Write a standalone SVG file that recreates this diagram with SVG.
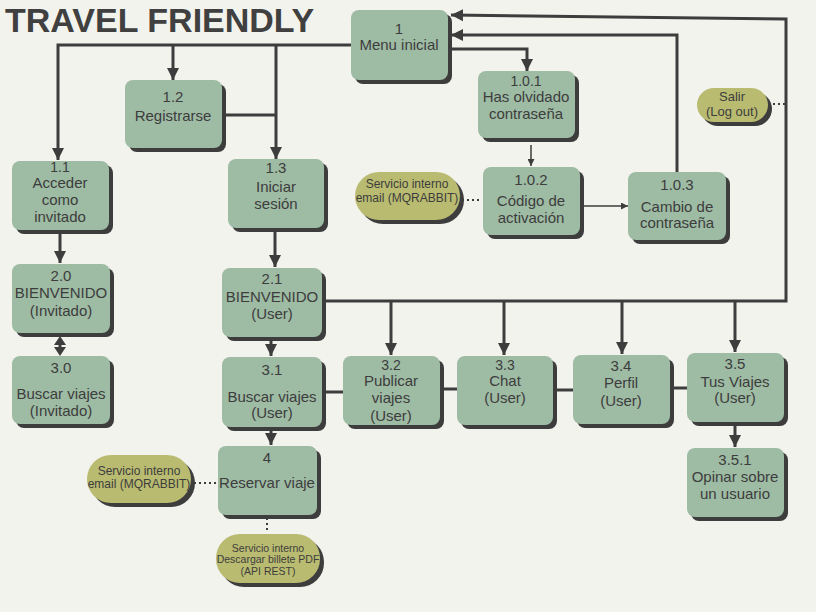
<svg xmlns="http://www.w3.org/2000/svg" width="816" height="612" viewBox="0 0 816 612">
<style>
.bg{fill:#f3f3ed}
.sh{fill:#3d3d3d}
.nd{fill:#9ebba4}
.pl{fill:#b9bb70}
.t{font-family:"Liberation Sans",Arial,sans-serif;font-size:15px;fill:#3d3d3d;text-anchor:middle}
.t14{font-size:14px}
.ts{font-family:"Liberation Sans",Arial,sans-serif;font-size:12px;fill:#3d3d3d;text-anchor:middle}
.tx{font-family:"Liberation Sans",Arial,sans-serif;font-size:10.5px;fill:#3d3d3d;text-anchor:middle}
.title{font-family:"Liberation Sans",Arial,sans-serif;font-size:34px;font-weight:bold;fill:#404040}
.c{fill:none;stroke:#3d3d3d;stroke-width:3}
.thin{fill:none;stroke:#3d3d3d;stroke-width:1.5}
.dot{fill:none;stroke:#3d3d3d;stroke-width:2;stroke-dasharray:2 3}
.head{fill:#3d3d3d}
</style>
<defs>
<marker id="ah" markerUnits="userSpaceOnUse" viewBox="0 0 10 10" refX="10" refY="5" markerWidth="12" markerHeight="13" orient="auto-start-reverse">
<path d="M0,0 L10,5 L0,10 z" fill="#3d3d3d"/>
</marker>
<marker id="as" markerUnits="userSpaceOnUse" viewBox="0 0 10 10" refX="10" refY="5" markerWidth="7" markerHeight="7" orient="auto">
<path d="M0,0 L10,5 L0,10 z" fill="#3d3d3d"/>
</marker>
</defs>
<rect class="bg" x="0" y="0" width="816" height="612"/>
<text class="title" x="5" y="32">TRAVEL FRIENDLY</text>

<g id="connectors">
<path class="c" d="M351,45 H58 V160" marker-end="url(#ah)"/>
<path class="c" d="M173,45 V80" marker-end="url(#ah)"/>
<path class="c" d="M276,45 V159" marker-end="url(#ah)"/>
<path class="c" d="M222,115 H276"/>
<path class="c" d="M448,49 H527 V71" marker-end="url(#ah)"/>
<path class="thin" d="M531,145 V166" marker-end="url(#as)"/>
<path class="thin" d="M580,206 H628" marker-end="url(#as)"/>
<path class="c" d="M677,172 V35 H451" marker-end="url(#ah)"/>
<path class="c" d="M322,301 H786 V19 L451,15" marker-end="url(#ah)"/>
<path class="c" d="M391,301 V355" marker-end="url(#ah)"/>
<path class="c" d="M504,301 V355" marker-end="url(#ah)"/>
<path class="c" d="M622,301 V354" marker-end="url(#ah)"/>
<path class="c" d="M735,301 V352" marker-end="url(#ah)"/>
<path class="c" d="M60,234 V263" marker-end="url(#ah)"/>
<g id="dbl">
<path class="c" d="M60,340 V352"/>
<path class="head" d="M60,336 L54,345 L66,345 z"/>
<path class="head" d="M60,356 L54,347 L66,347 z"/>
</g>
<path class="c" d="M275,232 V267" marker-end="url(#ah)"/>
<path class="c" d="M271,340 V356" marker-end="url(#ah)"/>
<path class="c" d="M322,392 H343"/>
<path class="c" d="M440,389 H457"/>
<path class="c" d="M553,390 H573"/>
<path class="c" d="M670,388 H687"/>
<path class="c" d="M735,426 V447" marker-end="url(#ah)"/>
<path class="c" d="M271,430 V445" marker-end="url(#ah)"/>
<path class="dot" d="M462,200 H482"/>
<path class="dot" d="M773,104 H786"/>
<path class="dot" d="M194,483 H218"/>
<path class="dot" d="M267,518 V533"/>
</g>

<g id="n1"><rect class="sh" x="355" y="14" width="97" height="70" rx="8"/><rect class="nd" x="351" y="10" width="97" height="70" rx="8"/>
<text class="t" x="399" y="34">1</text><text class="t" x="399" y="50">Menu inicial</text></g>

<g id="n1_2"><rect class="sh" x="129" y="84" width="97" height="68" rx="8"/><rect class="nd" x="125" y="80" width="97" height="68" rx="8"/>
<text class="t" x="173" y="102">1.2</text><text class="t" x="173" y="121">Registrarse</text></g>

<g id="n1_1"><rect class="sh" x="16" y="165" width="97" height="69" rx="8"/><rect class="nd" x="12" y="161" width="97" height="69" rx="8"/>
<text class="t t14" x="60" y="172">1.1</text><text class="t" x="60" y="188">Acceder</text><text class="t" x="60" y="205">como</text><text class="t" x="60" y="222">invitado</text></g>

<g id="n1_3"><rect class="sh" x="232" y="163" width="96" height="69" rx="8"/><rect class="nd" x="228" y="159" width="96" height="69" rx="8"/>
<text class="t" x="276" y="173">1.3</text><text class="t" x="276" y="192">Iniciar</text><text class="t" x="276" y="209">sesión</text></g>

<g id="n1_0_1"><rect class="sh" x="482" y="75" width="97" height="67" rx="8"/><rect class="nd" x="478" y="71" width="97" height="67" rx="8"/>
<text class="t t14" x="526" y="86">1.0.1</text><text class="t" x="526" y="102">Has olvidado</text><text class="t" x="526" y="119">contraseña</text></g>

<g id="n1_0_2"><rect class="sh" x="487" y="171" width="97" height="68" rx="8"/><rect class="nd" x="483" y="167" width="97" height="68" rx="8"/>
<text class="t" x="531" y="185">1.0.2</text><text class="t" x="531" y="206">Código de</text><text class="t" x="531" y="223">activación</text></g>

<g id="n1_0_3"><rect class="sh" x="632" y="176" width="98" height="68" rx="8"/><rect class="nd" x="628" y="172" width="98" height="68" rx="8"/>
<text class="t" x="677" y="190">1.0.3</text><text class="t" x="677" y="212">Cambio de</text><text class="t" x="677" y="228">contraseña</text></g>

<g id="p_email1"><rect class="sh" x="359" y="176" width="105" height="48" rx="24"/><rect class="pl" x="355" y="172" width="105" height="48" rx="24"/>
<text class="ts" x="407" y="188">Servicio interno</text><text class="ts" x="407" y="202">email (MQRABBIT)</text></g>

<g id="p_salir"><rect class="sh" x="701" y="92" width="71" height="34" rx="17"/><rect class="pl" x="697" y="88" width="71" height="34" rx="17"/>
<text class="t" style="font-size:13px" x="732" y="101">Salir</text><text class="t" style="font-size:13px" x="732" y="116">(Log out)</text></g>

<g id="n2_0"><rect class="sh" x="16" y="268" width="98" height="69" rx="8"/><rect class="nd" x="12" y="264" width="98" height="69" rx="8"/>
<text class="t" x="61" y="281">2.0</text><text class="t" x="61" y="298">BIENVENIDO</text><text class="t" x="61" y="316">(Invitado)</text></g>

<g id="n3_0"><rect class="sh" x="16" y="360" width="98" height="68" rx="8"/><rect class="nd" x="12" y="356" width="98" height="68" rx="8"/>
<text class="t" x="61" y="373">3.0</text><text class="t" x="61" y="399">Buscar viajes</text><text class="t" x="61" y="416">(Invitado)</text></g>

<g id="n2_1"><rect class="sh" x="226" y="272" width="100" height="69" rx="8"/><rect class="nd" x="222" y="268" width="100" height="69" rx="8"/>
<text class="t" x="272" y="284">2.1</text><text class="t" x="272" y="302">BIENVENIDO</text><text class="t" x="272" y="319">(User)</text></g>

<g id="n3_1"><rect class="sh" x="226" y="361" width="100" height="70" rx="8"/><rect class="nd" x="222" y="357" width="100" height="70" rx="8"/>
<text class="t" x="272" y="375">3.1</text><text class="t" x="272" y="402">Buscar viajes</text><text class="t" x="272" y="418">(User)</text></g>

<g id="n3_2"><rect class="sh" x="347" y="360" width="97" height="69" rx="8"/><rect class="nd" x="343" y="356" width="97" height="69" rx="8"/>
<text class="t t14" x="391" y="370">3.2</text><text class="t" x="391" y="386">Publicar</text><text class="t" x="391" y="403">viajes</text><text class="t" x="391" y="421">(User)</text></g>

<g id="n3_3"><rect class="sh" x="461" y="360" width="96" height="69" rx="8"/><rect class="nd" x="457" y="356" width="96" height="69" rx="8"/>
<text class="t t14" x="505" y="370">3.3</text><text class="t" x="505" y="386">Chat</text><text class="t" x="505" y="403">(User)</text></g>

<g id="n3_4"><rect class="sh" x="577" y="359" width="97" height="69" rx="8"/><rect class="nd" x="573" y="355" width="97" height="69" rx="8"/>
<text class="t" x="621" y="371">3.4</text><text class="t" x="621" y="388">Perfil</text><text class="t" x="621" y="406">(User)</text></g>

<g id="n3_5"><rect class="sh" x="691" y="357" width="97" height="69" rx="8"/><rect class="nd" x="687" y="353" width="97" height="69" rx="8"/>
<text class="t" x="735" y="369">3.5</text><text class="t" x="735" y="387">Tus Viajes</text><text class="t" x="735" y="403">(User)</text></g>

<g id="n3_5_1"><rect class="sh" x="691" y="452" width="97" height="69" rx="8"/><rect class="nd" x="687" y="448" width="97" height="69" rx="8"/>
<text class="t" x="735" y="465">3.5.1</text><text class="t" x="735" y="482">Opinar sobre</text><text class="t" x="735" y="499">un usuario</text></g>

<g id="n4"><rect class="sh" x="222" y="450" width="99" height="69" rx="8"/><rect class="nd" x="218" y="446" width="99" height="69" rx="8"/>
<text class="t" x="267" y="463">4</text><text class="t" x="267" y="488">Reservar viaje</text></g>

<g id="p_email2"><rect class="sh" x="91" y="459" width="104" height="48" rx="24"/><rect class="pl" x="87" y="455" width="104" height="48" rx="24"/>
<text class="ts" x="139" y="475">Servicio interno</text><text class="ts" x="139" y="488">email (MQRABBIT)</text></g>

<g id="p_pdf"><rect class="sh" x="220" y="538" width="104" height="49" rx="24"/><rect class="pl" x="216" y="534" width="104" height="49" rx="24"/>
<text class="tx" x="268" y="552">Servicio interno</text><text class="tx" x="268" y="563">Descargar billete PDF</text><text class="tx" x="268" y="575">(API REST)</text></g>
</svg>
